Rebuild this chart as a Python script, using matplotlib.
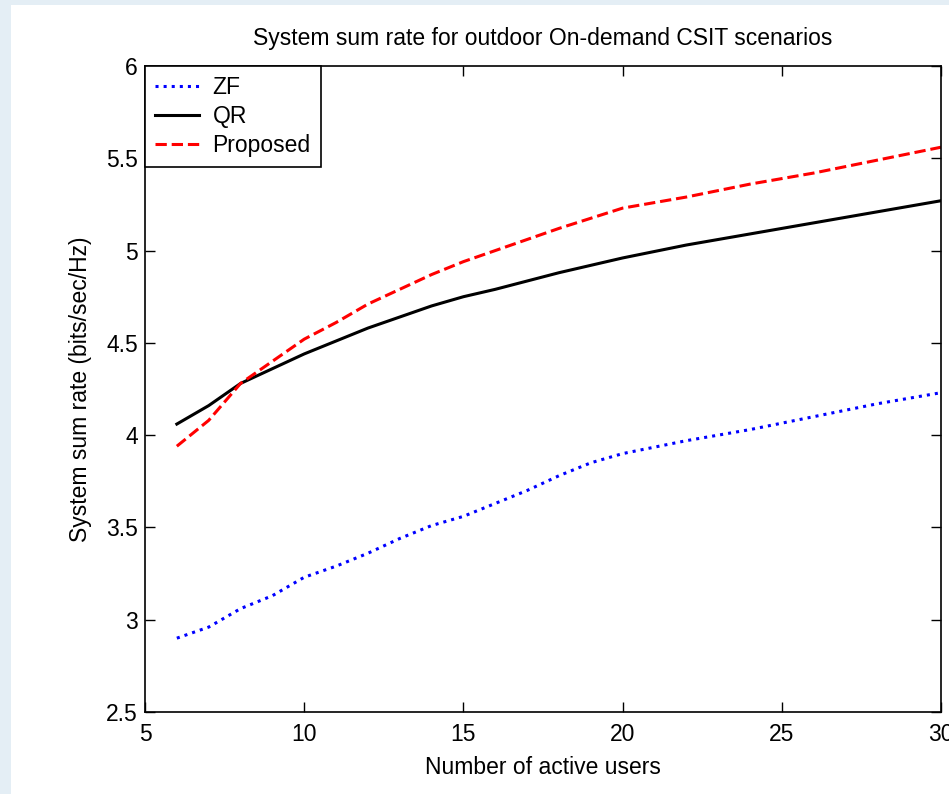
import matplotlib
matplotlib.use("Agg")
import matplotlib.pyplot as plt
from matplotlib.patches import Rectangle

# Data
users_zf = [6, 7, 8, 9, 10, 11, 12, 13, 14, 15, 16, 17, 18, 19, 20, 22, 24, 26, 28, 30]
zf = [2.90, 2.96, 3.06, 3.13, 3.23, 3.29, 3.36, 3.44, 3.51, 3.56, 3.63, 3.70, 3.78, 3.85, 3.90,
      3.97, 4.03, 4.10, 4.17, 4.23]

users_qr = [6, 7, 8, 9, 10, 11, 12, 13, 14, 15, 16, 18, 20, 22, 24, 26, 28, 30]
qr = [4.06, 4.16, 4.28, 4.36, 4.44, 4.51, 4.58, 4.64, 4.70, 4.75, 4.79, 4.88, 4.96, 5.03, 5.09,
      5.15, 5.21, 5.27]

users_prop = [6, 7, 8, 9, 10, 11, 12, 13, 14, 15, 16, 18, 20, 22, 24, 26, 28, 30]
prop = [3.94, 4.08, 4.28, 4.40, 4.52, 4.61, 4.71, 4.79, 4.87, 4.94, 5.00, 5.12, 5.23, 5.29, 5.36,
        5.42, 5.49, 5.56]

x_ticks = [5, 10, 15, 20, 25, 30]
y_ticks = [2.5, 3, 3.5, 4, 4.5, 5, 5.5, 6]
y_tick_labels = ["2.5", "3", "3.5", "4", "4.5", "5", "5.5", "6"]

plt.rcParams['font.family'] = ['Liberation Sans', 'DejaVu Sans']
FS = 16.5

fig = plt.figure(figsize=(9.49, 7.94), dpi=100, facecolor='white')
# light bluish frame strips of the screenshot
fig.patches.append(Rectangle((0, 1 - 5 / 794), 1, 5 / 794, transform=fig.transFigure,
                             facecolor='#e4eef5', edgecolor='none', zorder=0))
fig.patches.append(Rectangle((0, 0), 11 / 949, 1, transform=fig.transFigure,
                             facecolor='#e4eef5', edgecolor='none', zorder=0))

ax = fig.add_axes([145 / 949, 1 - 712 / 794, 796 / 949, 646 / 794])

ax.plot(users_zf, zf, color='#0000ff', linestyle=':', linewidth=2.2, label='ZF')
ax.plot(users_qr, qr, color='black', linestyle='-', linewidth=2.2, label='QR')
ax.plot(users_prop, prop, color='#ff0000', linestyle='--', linewidth=2.2, label='Proposed')

ax.set_xlim(5, 30)
ax.set_ylim(2.5, 6)
ax.set_xticks(x_ticks)
ax.set_xticklabels([str(t) for t in x_ticks])
ax.set_yticks(y_ticks)
ax.set_yticklabels(y_tick_labels)
ax.tick_params(direction='in', length=7, width=1, top=True, right=True,
               labelsize=FS, colors='black')
ax.tick_params(axis='x', pad=8)
ax.tick_params(axis='y', pad=5)
for s in ax.spines.values():
    s.set_linewidth(1.2)
    s.set_color('black')

ax.set_title('System sum rate for outdoor On-demand CSIT scenarios', fontsize=FS, pad=15)
ax.set_xlabel('Number of active users', fontsize=FS, labelpad=7)
ax.set_ylabel('System sum rate (bits/sec/Hz)', fontsize=FS, labelpad=10)

leg = ax.legend(loc='upper left', fontsize=FS, frameon=True, fancybox=False,
                edgecolor='black', borderaxespad=0, handlelength=1.9, handletextpad=0.6,
                borderpad=0.45, labelspacing=0.25)
leg.get_frame().set_linewidth(1.2)
leg.get_frame().set_alpha(1)

fig.savefig('out.png', dpi=100, facecolor='white')
